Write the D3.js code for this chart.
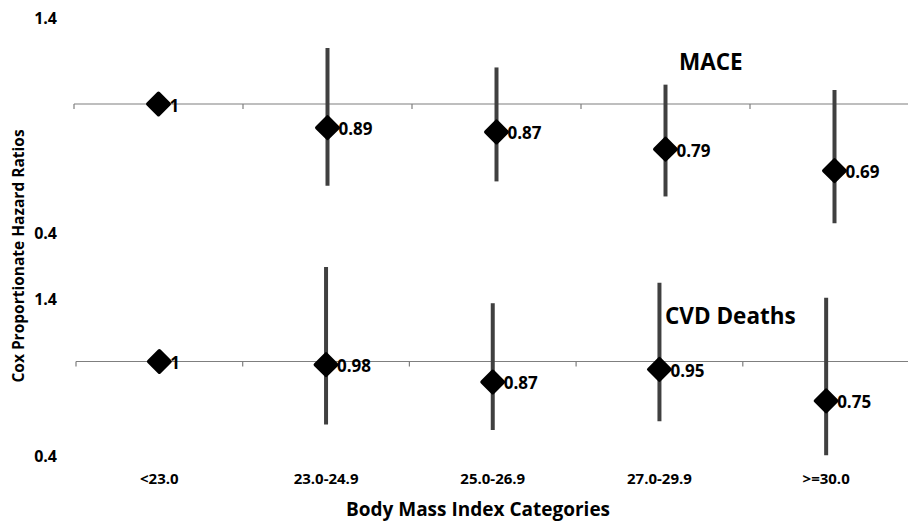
<!DOCTYPE html>
<html><head><meta charset="utf-8">
<script src="https://cdn.jsdelivr.net/npm/d3@7"></script>
<style>body{margin:0;background:#fff}svg{display:block}text{font-family:"Open Sans",sans-serif;fill:#000}</style>
</head><body>
<svg id="c" width="908" height="523"></svg>
<script>
const categories = ["<23.0","23.0-24.9","25.0-26.9","27.0-29.9",">=30.0"];
const maceHR    = [1, 0.89, 0.87, 0.79, 0.69];
const maceLower = [1, 0.62, 0.64, 0.57, 0.445];
const maceUpper = [1, 1.26, 1.17, 1.09, 1.065];
const cvdHR     = [1, 0.98, 0.87, 0.95, 0.75];
const cvdLower  = [1, 0.60, 0.565, 0.62, 0.405];
const cvdUpper  = [1, 1.60, 1.37, 1.50, 1.405];
const yTicks = [0.4, 1.4];
const maceLabels = ["1","0.89","0.87","0.79","0.69"];
const cvdLabels  = ["1","0.98","0.87","0.95","0.75"];

const svg = d3.select("#c");

const panels = [
  {name:"MACE", hr:maceHR, lo:maceLower, hi:maceUpper, labels:maceLabels,
   x:d3.scaleBand().domain(categories).range([74,919]),
   y:d3.scaleLinear().domain([0.4,1.4]).range([233,18]),
   title:{x:679,y:70}},
  {name:"CVD Deaths", hr:cvdHR, lo:cvdLower, hi:cvdUpper, labels:cvdLabels,
   x:d3.scaleBand().domain(categories).range([76,909.5]),
   y:d3.scaleLinear().domain([0.4,1.4]).range([456,298.5]),
   title:{x:665,y:324}}
];

const diamond = d3.symbol().type(d3.symbolSquare).size(230);

panels.forEach(p => {
  const g = svg.append("g");
  const y1 = p.y(1);
  g.append("line").attr("x1",p.x.range()[0]).attr("x2",p.x.range()[1])
    .attr("y1",y1).attr("y2",y1).attr("stroke","#7f7f7f").attr("stroke-width",1.2);
  g.selectAll("line.tk").data(categories).join("line").attr("class","tk")
    .attr("x1",d=>p.x(d)).attr("x2",d=>p.x(d))
    .attr("y1",y1).attr("y2",y1+5).attr("stroke","#7f7f7f").attr("stroke-width",1.2);
  g.selectAll("text.yt").data(yTicks).join("text").attr("class","yt")
    .attr("x",57).attr("y",d=>p.y(d)).attr("text-anchor","end")
    .attr("dominant-baseline","central").attr("font-size",16).attr("font-weight",700)
    .text(d=>d.toFixed(1));
  const cx = d => p.x(d)+p.x.bandwidth()/2;
  g.selectAll("line.eb").data(categories).join("line").attr("class","eb")
    .attr("x1",cx).attr("x2",cx)
    .attr("y1",(d,i)=>p.y(p.hi[i])).attr("y2",(d,i)=>p.y(p.lo[i]))
    .attr("stroke","#404040").attr("stroke-width",4);
  g.selectAll("path.pt").data(categories).join("path").attr("class","pt")
    .attr("d",diamond)
    .attr("transform",(d,i)=>`translate(${cx(d)},${p.y(p.hr[i])}) rotate(45)`)
    .attr("fill","#000").attr("stroke","#000").attr("stroke-width",3.5).attr("stroke-linejoin","round");
  g.selectAll("text.vl").data(categories).join("text").attr("class","vl")
    .attr("x",d=>cx(d)+11).attr("y",(d,i)=>p.y(p.hr[i])+1)
    .attr("dominant-baseline","central").attr("font-size",17).attr("font-weight",700)
    .text((d,i)=>p.labels[i]);
  g.append("text").attr("x",p.title.x).attr("y",p.title.y).attr("font-size",22.5)
    .attr("font-weight",700).text(p.name);
});

const xb = panels[1].x;
svg.selectAll("text.xl").data(categories).join("text").attr("class","xl")
  .attr("x",d=>xb(d)+xb.bandwidth()/2).attr("y",478).attr("text-anchor","middle")
  .attr("dominant-baseline","central").attr("font-size",15).attr("font-weight",700).text(d=>d);

svg.append("text").attr("x",478).attr("y",509).attr("text-anchor","middle")
  .attr("dominant-baseline","central").attr("font-size",19).attr("font-weight",700)
  .text("Body Mass Index Categories");

svg.append("text").attr("transform","translate(18,256) rotate(-90)").attr("text-anchor","middle")
  .attr("dominant-baseline","central").attr("font-size",15.5).attr("font-weight",700)
  .text("Cox Proportionate Hazard Ratios");
</script>
</body></html>
